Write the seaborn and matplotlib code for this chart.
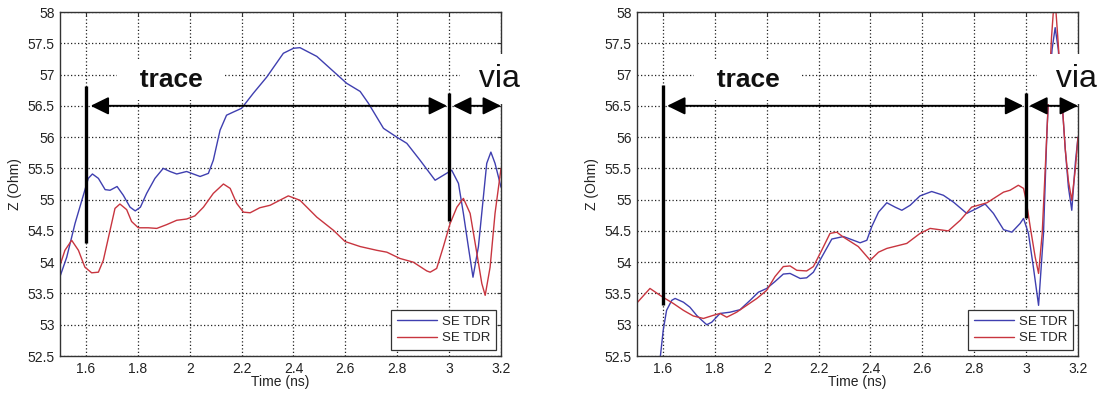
import matplotlib
matplotlib.use('Agg')
import matplotlib.pyplot as plt
import seaborn as sns

sns.set_style('white')
plt.rcParams['font.family'] = ['Liberation Sans', 'DejaVu Sans']

# ---------------- data ----------------
# left panel
left_blue_t = [1.5, 1.526, 1.558, 1.59, 1.609, 1.625, 1.648, 1.674, 1.693, 1.72, 1.744, 1.77, 1.79, 1.81,
               1.834, 1.866, 1.898, 1.924, 1.95, 1.988, 2.014, 2.04, 2.072, 2.091, 2.117, 2.142, 2.168,
               2.2, 2.245, 2.297, 2.361, 2.4, 2.425, 2.49, 2.605, 2.657, 2.689, 2.747, 2.798, 2.837,
               2.888, 2.946, 2.978, 3.01, 3.036, 3.055, 3.074, 3.092, 3.113, 3.132, 3.145, 3.161, 3.177, 3.2]
left_blue_z = [53.77, 54.08, 54.62, 55.07, 55.34, 55.41, 55.34, 55.16, 55.15, 55.21, 55.07, 54.88, 54.82, 54.88,
               55.10, 55.34, 55.50, 55.45, 55.41, 55.45, 55.41, 55.37, 55.42, 55.63, 56.11, 56.35, 56.40,
               56.46, 56.70, 56.96, 57.34, 57.42, 57.43, 57.29, 56.86, 56.73, 56.54, 56.14, 56.00, 55.90,
               55.63, 55.31, 55.39, 55.47, 55.26, 54.78, 54.25, 53.76, 54.25, 55.04, 55.58, 55.76, 55.58, 55.20]

left_red_t = [1.5, 1.519, 1.545, 1.571, 1.596, 1.622, 1.648, 1.667, 1.693, 1.712, 1.731, 1.757, 1.776, 1.802,
              1.84, 1.873, 1.911, 1.95, 1.988, 2.02, 2.053, 2.091, 2.13, 2.156, 2.181, 2.207, 2.233, 2.27,
              2.31, 2.38, 2.425, 2.49, 2.554, 2.599, 2.657, 2.721, 2.76, 2.81, 2.862, 2.914, 2.927, 2.952,
              2.978, 3.004, 3.03, 3.055, 3.081, 3.107, 3.126, 3.139, 3.158, 3.177, 3.2]
left_red_z = [53.95, 54.19, 54.35, 54.19, 53.92, 53.83, 53.84, 54.03, 54.51, 54.86, 54.93, 54.84, 54.65, 54.55,
              54.55, 54.54, 54.60, 54.67, 54.69, 54.74, 54.88, 55.10, 55.25, 55.18, 54.94, 54.80, 54.79, 54.87,
              54.91, 55.06, 54.99, 54.72, 54.51, 54.33, 54.25, 54.19, 54.16, 54.06, 54.00, 53.86, 53.84, 53.90,
              54.25, 54.62, 54.88, 55.02, 54.78, 54.14, 53.66, 53.47, 53.92, 54.78, 55.50]

# right panel
right_blue_t = [1.585, 1.601, 1.614, 1.634, 1.647, 1.679, 1.704, 1.73, 1.75, 1.769, 1.788, 1.82, 1.858, 1.897,
                1.936, 1.968, 2.0, 2.032, 2.064, 2.09, 2.129, 2.154, 2.18, 2.212, 2.251, 2.296, 2.36, 2.386,
                2.405, 2.431, 2.463, 2.495, 2.521, 2.553, 2.591, 2.636, 2.681, 2.72, 2.771, 2.81, 2.842,
                2.874, 2.913, 2.945, 2.977, 2.99, 3.009, 3.028, 3.048, 3.067, 3.08, 3.086, 3.1, 3.112,
                3.124, 3.138, 3.151, 3.163, 3.176, 3.19, 3.2]
right_blue_z = [52.30, 52.91, 53.23, 53.39, 53.42, 53.36, 53.28, 53.15, 53.07, 53.00, 53.04, 53.18, 53.20, 53.24,
                53.39, 53.52, 53.58, 53.69, 53.81, 53.82, 53.74, 53.75, 53.84, 54.08, 54.37, 54.41, 54.31, 54.35,
                54.57, 54.80, 54.95, 54.88, 54.83, 54.91, 55.06, 55.13, 55.07, 54.96, 54.78, 54.86, 54.93,
                54.78, 54.52, 54.48, 54.62, 54.70, 54.46, 53.92, 53.31, 54.46, 56.06, 56.60, 57.40, 57.75,
                57.40, 56.60, 55.80, 55.20, 54.83, 55.60, 56.00]

right_red_t = [1.5, 1.55, 1.589, 1.608, 1.64, 1.679, 1.717, 1.756, 1.794, 1.82, 1.846, 1.884, 1.923, 1.962,
               2.0, 2.032, 2.064, 2.09, 2.116, 2.154, 2.18, 2.212, 2.244, 2.27, 2.296, 2.353, 2.399, 2.431,
               2.463, 2.54, 2.591, 2.63, 2.7, 2.746, 2.79, 2.849, 2.913, 2.938, 2.97, 2.99, 3.0, 3.016,
               3.035, 3.048, 3.062, 3.074, 3.086, 3.098, 3.11, 3.122, 3.138, 3.151, 3.163, 3.176, 3.19, 3.2]
right_red_z = [53.35, 53.58, 53.47, 53.42, 53.34, 53.23, 53.14, 53.10, 53.15, 53.18, 53.12, 53.20, 53.31, 53.42,
               53.55, 53.77, 53.93, 53.94, 53.87, 53.86, 53.93, 54.19, 54.46, 54.48, 54.40, 54.25, 54.03, 54.16,
               54.22, 54.30, 54.46, 54.54, 54.50, 54.67, 54.88, 54.95, 55.12, 55.15, 55.23, 55.18, 54.99, 54.56,
               54.08, 53.82, 54.46, 55.52, 56.60, 57.60, 58.30, 57.60, 56.60, 55.80, 55.30, 54.99, 55.50, 56.00]

series_label = 'SE TDR'
x_ticks = [1.6, 1.8, 2.0, 2.2, 2.4, 2.6, 2.8, 3.0, 3.2]
x_tick_labels = ['1.6', '1.8', '2', '2.2', '2.4', '2.6', '2.8', '3', '3.2']
y_ticks = [52.5, 53, 53.5, 54, 54.5, 55, 55.5, 56, 56.5, 57, 57.5, 58]
y_tick_labels = ['52.5', '53', '53.5', '54', '54.5', '55', '55.5', '56', '56.5', '57', '57.5', '58']
x_label = 'Time (ns)'
y_label = 'Z (Ohm)'

# annotation data: marker lines (t, z_low, z_high), arrows (t_start, t_end, z), labels
left_markers = [(1.6, 54.30, 56.82), (3.0, 54.66, 56.70)]
right_markers = [(1.6, 53.31, 56.83), (3.0, 54.70, 56.70)]
left_arrows = [(1.618, 2.992, 56.5), (3.015, 3.2, 56.5)]
right_arrows = [(1.616, 2.989, 56.5), (3.012, 3.2, 56.5)]
trace_pos = (1.928, 56.80)
via_pos = (3.079, 56.80)

BLUE = '#3f3fb0'
RED = '#c8353f'
EDGE = '#333333'

fig = plt.figure(figsize=(11, 3.93), dpi=100)
ax_l = fig.add_axes([60 / 1100, 37 / 393, 441 / 1100, 344 / 393])
ax_r = fig.add_axes([637 / 1100, 37 / 393, 441 / 1100, 344 / 393])


def draw(ax, bt, bz, rt, rz, markers, arrows):
    sns.lineplot(x=bt, y=bz, color=BLUE, lw=1.0, label=series_label, ax=ax,
                 sort=False, estimator=None, zorder=2)
    sns.lineplot(x=rt, y=rz, color=RED, lw=1.0, label=series_label, ax=ax,
                 sort=False, estimator=None, zorder=2)
    ax.set_xlim(1.5, 3.2)
    ax.set_ylim(52.5, 58)
    ax.set_xticks(x_ticks)
    ax.set_xticklabels(x_tick_labels)
    ax.set_yticks(y_ticks)
    ax.set_yticklabels(y_tick_labels)
    ax.set_axisbelow(True)
    ax.grid(True, color='#222222', linestyle=(0, (1, 1.8)), lw=0.9)
    ax.tick_params(direction='in', length=3, width=0.8, color=EDGE, labelsize=10,
                   top=True, right=True, pad=4, labelcolor='#222222')
    for s in ax.spines.values():
        s.set_color(EDGE)
        s.set_linewidth(1.0)
        s.set_visible(True)
    ax.set_xlabel(x_label, fontsize=10, color='#222222')
    ax.set_ylabel(y_label, fontsize=10, color='#222222')
    ax.xaxis.set_label_coords(0.5, -0.055)
    ax.yaxis.set_label_coords(-0.086, 0.5)

    h, l = ax.get_legend_handles_labels()
    leg = ax.legend(h, l, loc='lower right', bbox_to_anchor=(0.989, 0.017), borderaxespad=0,
                    fontsize=9.5, frameon=True, fancybox=False, edgecolor=EDGE, framealpha=1,
                    handlelength=3.0, handletextpad=0.4, labelspacing=0.3, borderpad=0.45)
    leg.get_frame().set_linewidth(0.9)
    leg.set_zorder(7)

    for (t, lo, hi) in markers:
        ax.plot([t, t], [lo, hi], color='black', lw=2.4, solid_capstyle='butt', zorder=6)
    for (t0, t1, z) in arrows:
        ax.annotate('', xy=(t1, z), xytext=(t0, z),
                    arrowprops=dict(arrowstyle='<|-|>,head_length=0.55,head_width=0.27',
                                    mutation_scale=20, color='black', lw=1.4,
                                    shrinkA=0, shrinkB=0),
                    zorder=6, annotation_clip=False)
    ax.text(trace_pos[0], trace_pos[1], '  trace  ', fontsize=19, fontweight='bold',
            ha='center', va='baseline', color='#111111',
            bbox=dict(boxstyle='square,pad=0.3', fc='white', ec='none'), zorder=5)
    ax.text(via_pos[0], via_pos[1], ' via', fontsize=23, ha='left', va='baseline', color='#111111',
            bbox=dict(boxstyle='square,pad=0.3', fc='white', ec='none'), zorder=5, clip_on=False)


draw(ax_l, left_blue_t, left_blue_z, left_red_t, left_red_z, left_markers, left_arrows)
draw(ax_r, right_blue_t, right_blue_z, right_red_t, right_red_z, right_markers, right_arrows)

fig.savefig('out.png', dpi=100, facecolor='white')
